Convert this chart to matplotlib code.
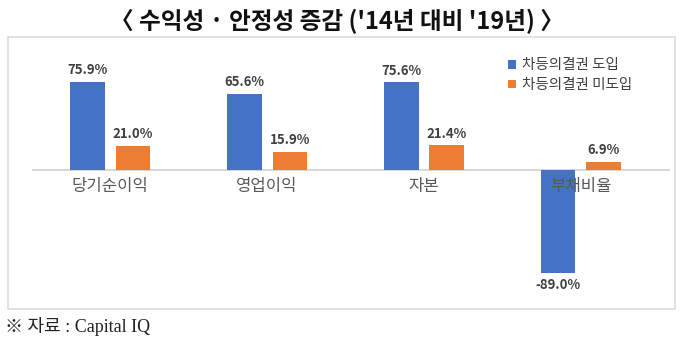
import matplotlib.pyplot as plt
import numpy as np
from matplotlib.patches import Rectangle

plt.rcParams['font.family'] = ['Noto Sans CJK KR', 'DejaVu Sans']

# 데이터
categories = ['당기순이익', '영업이익', '자본', '부채비율']
adopted = [75.9, 65.6, 75.6, -89.0]
not_adopted = [21.0, 15.9, 21.4, 6.9]
series_names = ['차등의결권 도입', '차등의결권 미도입']

W, H = 680, 345
fig = plt.figure(figsize=(W / 100, H / 100), dpi=100)

# 바깥 테두리
fig.patches.append(Rectangle((8 / W, 1 - 309 / H), 667 / W, 272 / H,
                             transform=fig.transFigure, fill=False,
                             edgecolor='#DCDCDC', linewidth=1.2))

ax = fig.add_axes([32 / W, 1 - 300 / H, 638 / W, 260 / H])
x = np.arange(len(categories))
bw = 0.22
b1 = ax.bar(x - 0.145, adopted, bw, color='#4472C4', label=series_names[0], zorder=3)
b2 = ax.bar(x + 0.145, not_adopted, bw, color='#ED7D31', label=series_names[1], zorder=3)
ax.set_xlim(-0.497, 3.567)
ax.set_ylim(-112, 112)
ax.axhline(0, color='#D0D0D0', linewidth=1.2, zorder=2)
ax.axis('off')

for bars in (b1, b2):
    for b in bars:
        v = b.get_height()
        cx = b.get_x() + b.get_width() / 2
        if v >= 0:
            ax.text(cx, v + 4, f'{v:.1f}%', ha='center', va='bottom',
                    fontsize=9.5, fontweight='bold', color='#404040')
        else:
            ax.text(cx, v - 4, f'{v:.1f}%', ha='center', va='top',
                    fontsize=9.5, fontweight='bold', color='#404040')

for i, c in enumerate(categories):
    ax.text(i, -14, c, ha='center', va='center', fontsize=12, color='#595959', zorder=4)

leg = ax.legend(loc='upper left', bbox_to_anchor=(0.725, 0.98), frameon=False,
                fontsize=10.5, handlelength=0.55, handleheight=0.55, handletextpad=0.45,
                labelspacing=0.4)
for t in leg.get_texts():
    t.set_color('#404040')

fig.text(0.495, 1 - 21 / H, "〈 수익성 · 안정성 증감 ('14년 대비 '19년) 〉", ha='center', va='center',
         fontsize=17, fontweight='bold', color='#111111')
fig.text(5 / W, 1 - 327 / H, '※ 자료 : Capital IQ', ha='left', va='center',
         fontsize=13, color='#222222', family=['Liberation Serif', 'Noto Sans CJK KR'])

fig.savefig('out.png', dpi=100)
